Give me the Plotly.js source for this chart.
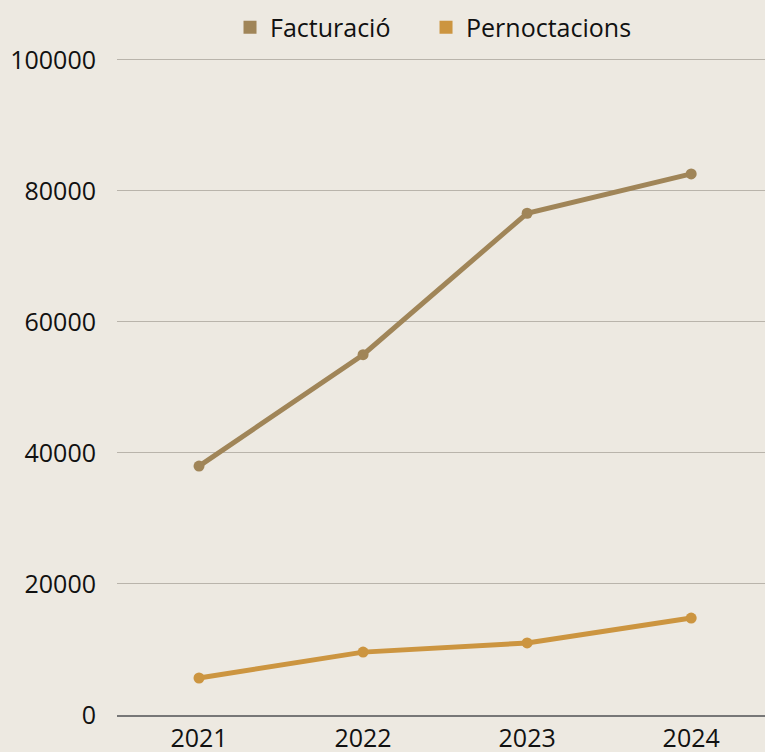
<!DOCTYPE html>
<html>
<head>
<meta charset="utf-8">
<script src="https://cdn.plot.ly/plotly-3.0.1.min.js"></script>
<style>
html,body{margin:0;padding:0;background:#ede9e1;}
#chart{width:765px;height:752px;}
</style>
</head>
<body>
<div id="chart"></div>
<script>
const years = ['2021', '2022', '2023', '2024'];
const facturacio = [38000, 55000, 76600, 82600];
const pernoctacions = [5650, 9600, 11000, 14800];
const seriesNames = ['Facturació', 'Pernoctacions'];
const colors = ['#a08558', '#cc9540'];
const yTicks = [0, 20000, 40000, 60000, 80000, 100000];

const traces = [
  {x: years, y: facturacio, name: seriesNames[0], type: 'scatter', mode: 'lines+markers',
   line: {color: colors[0], width: 5}, marker: {color: colors[0], size: 11}, showlegend: false},
  {x: years, y: pernoctacions, name: seriesNames[1], type: 'scatter', mode: 'lines+markers',
   line: {color: colors[1], width: 5}, marker: {color: colors[1], size: 11}, showlegend: false},
  {x: [null], y: [null], name: seriesNames[0], type: 'scatter', mode: 'markers', legend: 'legend',
   marker: {color: colors[0], size: 13, symbol: 'square'}},
  {x: [null], y: [null], name: seriesNames[1], type: 'scatter', mode: 'markers', legend: 'legend2',
   marker: {color: colors[1], size: 13, symbol: 'square'}}
];

const legendBase = {orientation: 'h', yanchor: 'bottom', y: 1.0114, xanchor: 'left',
                    font: {size: 25}, bgcolor: 'rgba(0,0,0,0)'};

const layout = {
  width: 765, height: 752,
  paper_bgcolor: '#ede9e1', plot_bgcolor: '#ede9e1',
  font: {family: 'Open Sans, Noto Sans, sans-serif', size: 25, color: '#111111'},
  margin: {l: 117, r: 0, t: 58, b: 37, autoexpand: false},
  showlegend: true,
  legend: Object.assign({}, legendBase, {x: 0.1744}),
  legend2: Object.assign({}, legendBase, {x: 0.4769}),
  xaxis: {type: 'category', range: [-0.5, 3.45], showgrid: false, zeroline: false,
          showline: true, linecolor: '#777777', linewidth: 1.5, ticks: '', tickfont: {size: 25}},
  yaxis: {range: [0, 100300], tickvals: yTicks, showgrid: true, gridcolor: '#b9b4ab', gridwidth: 1,
          zeroline: false, showline: false, ticks: '', ticklabelstandoff: 20, tickfont: {size: 25},
          tickformat: 'd'}
};

Plotly.newPlot('chart', traces, layout, {displayModeBar: false});
</script>
</body>
</html>
